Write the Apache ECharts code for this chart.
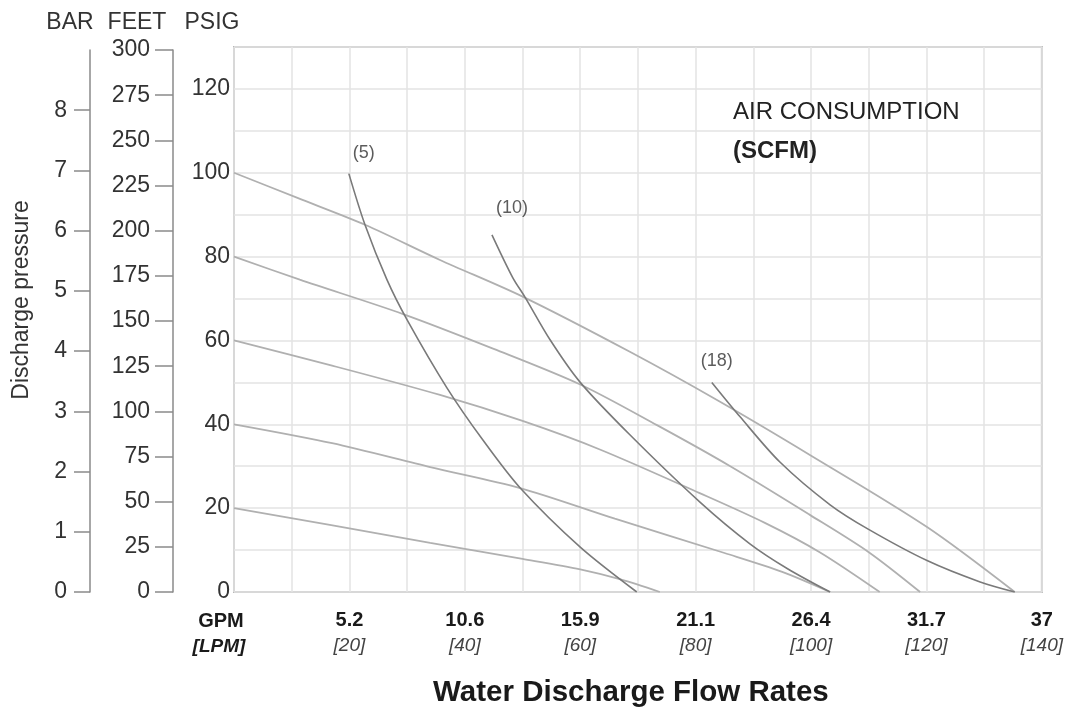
<!DOCTYPE html>
<html>
<head>
<meta charset="utf-8">
<script src="https://cdn.jsdelivr.net/npm/echarts@6/dist/echarts.min.js"></script>
<style>
html, body { margin: 0; padding: 0; background: #fff; }
#chart { width: 1066px; height: 713px; }
</style>
</head>
<body>
<div id="chart"></div>
<script>
// axis ticks
const lpmTicks = [20, 40, 60, 80, 100, 120, 140]
const gpmTicks = ['5.2', '10.6', '15.9', '21.1', '26.4', '31.7', '37']
const psigLabels = [0, 20, 40, 60, 80, 100, 120]
const barTicks = [0, 1, 2, 3, 4, 5, 6, 7, 8]

// discharge pressure lines, [LPM, PSIG]
const air20 = [[0, 20], [16.6, 16], [34, 11.7], [50, 7.9], [60, 5.4], [67, 3], [73.8, 0]]
const air40 = [[0, 40], [17, 35.5], [34, 29.8], [49.6, 24.8], [66, 17.5], [85, 9.3], [95, 4.8], [103.3, 0]]
const air60 = [[0, 60], [17, 54], [35.7, 47], [50, 40.8], [63.4, 34], [80.7, 23.6], [92, 16.5], [101.5, 9.5], [111.9, 0]]
const air80 = [[0, 80], [11.4, 74.5], [29.3, 66.3], [45, 58], [60, 49.5], [73.3, 39.8], [86, 30], [99.8, 18.4], [110, 9.5], [118.9, 0]]
const air100 = [[0, 100], [11, 94], [22.7, 87.6], [35.7, 79.2], [50.1, 70.4], [68.6, 57.3], [83.7, 45.8], [99.8, 32.7], [120.1, 15.5], [135.3, 0]]

// air consumption curves (SCFM)
const scfm5 = [[19.9, 99.8], [22.7, 87.6], [26.5, 74.5], [30, 64.9], [36.9, 48.7], [43.1, 36.3], [49.6, 24.8], [60, 10.7], [69.8, 0]]
const scfm10 = [[44.7, 85.2], [48.3, 75], [50.4, 70.4], [54.8, 60.1], [60, 50], [68.6, 37.5], [80.7, 21.5], [89.4, 11.5], [96, 5.5], [103.3, 0]]
const scfm18 = [[82.8, 50], [87.7, 41.8], [94.6, 31], [103.3, 20.8], [109.9, 15], [120.1, 7.5], [129.3, 2.4], [135.3, 0]]
const scfmNames = ['(5)', '(10)', '(18)']

const SANS = "'Liberation Sans', Arial, sans-serif"

const chart = echarts.init(document.getElementById('chart'))

const pressureLine = data => ({
	type: 'line',
	data: data,
	smooth: 0.3,
	symbol: 'none',
	silent: true,
	lineStyle: { color: '#b0b0b0', width: 1.8 },
})
const scfmLine = data => ({
	type: 'line',
	data: data,
	smooth: 0.3,
	symbol: 'none',
	silent: true,
	lineStyle: { color: '#7a7a7a', width: 1.6 },
})

// label offsets for (5), (10), (18)
const labelOffsets = [[15, -7], [20, -13], [5, -7]]

const headerText = (text, x) => ({
	type: 'text',
	x: x,
	y: 23,
	style: { text: text, font: '23px ' + SANS, fill: '#333', align: 'center', verticalAlign: 'middle' },
})

chart.setOption({
	animation: false,
	title: {
		text: 'AIR CONSUMPTION',
		subtext: '(SCFM)',
		left: 733,
		top: 100,
		itemGap: 15,
		padding: 0,
		textStyle: { fontFamily: SANS, fontSize: 24, fontWeight: 'normal', color: '#222' },
		subtextStyle: { fontFamily: SANS, fontSize: 24, fontWeight: 'bold', color: '#222' },
	},
	grid: [
		{ left: 234, top: 47, width: 808, height: 545, show: true, borderColor: '#b8b8b8', borderWidth: 2 },
		{ left: 173, top: 50, width: 1, height: 542 },
		{ left: 90, top: 50, width: 1, height: 542 },
	],
	xAxis: [
		{
			gridIndex: 0,
			type: 'value',
			min: 0,
			max: 140,
			interval: 10,
			axisLine: { show: false },
			axisTick: { show: false },
			splitLine: { lineStyle: { color: '#e3e3e3', width: 1.5 } },
			axisLabel: {
				margin: 15,
				formatter: v => {
					const i = lpmTicks.indexOf(v)
					return i < 0 ? '' : '{g|' + gpmTicks[i] + '}\n{l|[' + v + ']}'
				},
				rich: {
					g: { fontFamily: SANS, fontSize: 20, fontWeight: 'bold', color: '#1a1a1a', lineHeight: 26 },
					l: { fontFamily: SANS, fontSize: 19, fontStyle: 'italic', color: '#444', lineHeight: 26 },
				},
			},
			name: 'Water Discharge Flow Rates',
			nameLocation: 'middle',
			nameGap: 86,
			nameTextStyle: { fontFamily: SANS, fontSize: 29.5, fontWeight: 'bold', color: '#1a1a1a', padding: [0, 14, 0, 0] },
		},
		{ gridIndex: 1, type: 'value', show: false },
		{ gridIndex: 2, type: 'value', show: false },
	],
	yAxis: [
		{
			gridIndex: 0,
			type: 'value',
			min: 0,
			max: 130,
			interval: 10,
			axisLine: { show: false },
			axisTick: { show: false },
			splitLine: { lineStyle: { color: '#e3e3e3', width: 1.5 } },
			axisLabel: {
				margin: 4,
				fontFamily: SANS,
				fontSize: 23,
				color: '#333',
				formatter: v => (psigLabels.includes(v) ? v : ''),
			},
		},
		{
			gridIndex: 1,
			type: 'value',
			min: 0,
			max: 300,
			interval: 25,
			axisLine: { show: true, lineStyle: { color: '#8a8a8a', width: 1.5 } },
			axisTick: { show: true, length: 18, lineStyle: { color: '#8a8a8a', width: 1.5 } },
			splitLine: { show: false },
			axisLabel: { margin: 23, fontFamily: SANS, fontSize: 23, color: '#333' },
		},
		{
			gridIndex: 2,
			type: 'value',
			min: 0,
			max: 9,
			interval: 1,
			axisLine: { show: true, lineStyle: { color: '#8a8a8a', width: 1.5 } },
			axisTick: { show: true, length: 16, customValues: barTicks, lineStyle: { color: '#8a8a8a', width: 1.5 } },
			splitLine: { show: false },
			axisLabel: { margin: 23, customValues: barTicks, fontFamily: SANS, fontSize: 23, color: '#333' },
		},
	],
	graphic: [
		headerText('BAR', 70),
		headerText('FEET', 137),
		headerText('PSIG', 212),
		{
			type: 'text',
			x: 22,
			y: 300,
			rotation: Math.PI / 2,
			style: { text: 'Discharge pressure', font: '23px ' + SANS, fill: '#333', align: 'center', verticalAlign: 'middle' },
		},
		{ type: 'text', x: 221, y: 621, style: { text: 'GPM', font: 'bold 20px ' + SANS, fill: '#1a1a1a', align: 'center', verticalAlign: 'middle' } },
		{ type: 'text', x: 219, y: 647, style: { text: '[LPM]', font: 'italic bold 19px ' + SANS, fill: '#1a1a1a', align: 'center', verticalAlign: 'middle' } },
	],
	series: [
		pressureLine(air20),
		pressureLine(air40),
		pressureLine(air60),
		pressureLine(air80),
		pressureLine(air100),
		scfmLine(scfm5),
		scfmLine(scfm10),
		scfmLine(scfm18),
		{
			type: 'scatter',
			silent: true,
			symbolSize: 0,
			data: [scfm5, scfm10, scfm18].map((c, i) => ({
				value: c[0],
				label: { offset: labelOffsets[i] },
			})),
			label: {
				show: true,
				position: 'top',
				fontFamily: SANS,
				fontSize: 18,
				color: '#333',
				formatter: p => scfmNames[p.dataIndex],
			},
		},
	],
})
</script>
</body>
</html>
